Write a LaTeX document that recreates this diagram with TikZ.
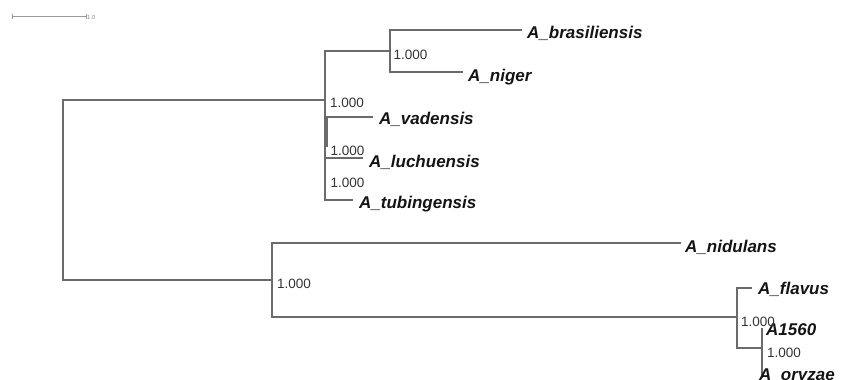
\documentclass[tikz,border=0pt]{standalone}
\usepackage{fontspec}
\setmainfont{Liberation Sans}
\begin{document}
\begin{tikzpicture}[x=1pt,y=-1pt,
  branch/.style={draw=black!58,line width=1.3pt},
  leaf/.style={anchor=base west,inner sep=0pt,text=black!92,font=\fontsize{17}{20}\selectfont\bfseries\itshape},
  boot/.style={anchor=base west,inner sep=0pt,text=black!80,font=\fontsize{13.5}{16}\selectfont},
  scalebar/.style={draw=black!40,line width=0.8pt}]
\useasboundingbox (0,0) rectangle (844,380);
% scale bar
\coordinate (s1) at (12,16);
\coordinate (s2) at (86,16);
\draw[scalebar] (s1) -- (s2);
\draw[scalebar] ([yshift=2.5pt]s1) -- ([yshift=-2.5pt]s1);
\draw[scalebar] ([yshift=2.5pt]s2) -- ([yshift=-2.5pt]s2);
\node[anchor=west,inner sep=0pt,text=black!45,font=\fontsize{6}{7}\selectfont] (sl) at (87,17.5) {1.0};
% internal nodes
\coordinate (R) at (63,190);
\coordinate (U) at (325,100);
\coordinate (BN) at (390,51);
\coordinate (L) at (272,280);
\coordinate (F) at (737,317);
\coordinate (AO) at (762,348);
\coordinate (W1) at (327,117);
\coordinate (W2) at (327,147);
% tips
\coordinate (brasT) at (522,30);
\coordinate (nigT) at (463,72);
\coordinate (vadT) at (373,117);
\coordinate (lucT) at (363,158);
\coordinate (tubT) at (353,200);
\coordinate (nidT) at (681,243);
\coordinate (flaT) at (752,288);
\coordinate (a15T) at (762,328);
\coordinate (oryT) at (762,378);
% branches
\draw[branch] (R) |- (U);
\draw[branch] (R) |- (L);
\draw[branch] (U) |- (BN);
\draw[branch] (U) |- (vadT);
\draw[branch] (U) |- (lucT);
\draw[branch] (U) |- (tubT);
\draw[branch] (W1) -- (W2);
\draw[branch] (BN) |- (brasT);
\draw[branch] (BN) |- (nigT);
\draw[branch] (L) |- (nidT);
\draw[branch] (L) |- (F);
\draw[branch] (F) |- (flaT);
\draw[branch] (F) |- (AO);
\draw[branch] (AO) -- (a15T);
\draw[branch] (AO) -- (oryT);
% leaf labels
\node[leaf] (brasL) at ([xshift=5pt,yshift=-8.5pt]brasT) {A\_brasiliensis};
\node[leaf] (nigL) at ([xshift=5pt,yshift=-9.5pt]nigT) {A\_niger};
\node[leaf] (vadL) at ([xshift=6pt,yshift=-7.5pt]vadT) {A\_vadensis};
\node[leaf] (lucL) at ([xshift=6pt,yshift=-9pt]lucT) {A\_luchuensis};
\node[leaf] (tubL) at ([xshift=6pt,yshift=-8pt]tubT) {A\_tubingensis};
\node[leaf] (nidL) at ([xshift=4pt,yshift=-9pt]nidT) {A\_nidulans};
\node[leaf] (flaL) at ([xshift=6pt,yshift=-6pt]flaT) {A\_flavus};
\node[leaf] (a15L) at ([xshift=4pt,yshift=-7pt]a15T) {A1560};
\node[leaf] (oryL) at ([xshift=-3pt,yshift=-2pt]oryT) {A\_oryzae};
% support values
\node[boot] (bBN) at (393.5,59) {1.000};
\node[boot] (bU) at (330,107) {1.000};
\node[boot] (bLuc) at (330.5,155) {1.000};
\node[boot] (bTub) at (330.5,187) {1.000};
\node[boot] (bL) at (277,288) {1.000};
\node[boot] (bF) at (741,326) {1.000};
\node[boot] (bAO) at (767,357) {1.000};
\end{tikzpicture}
\end{document}
